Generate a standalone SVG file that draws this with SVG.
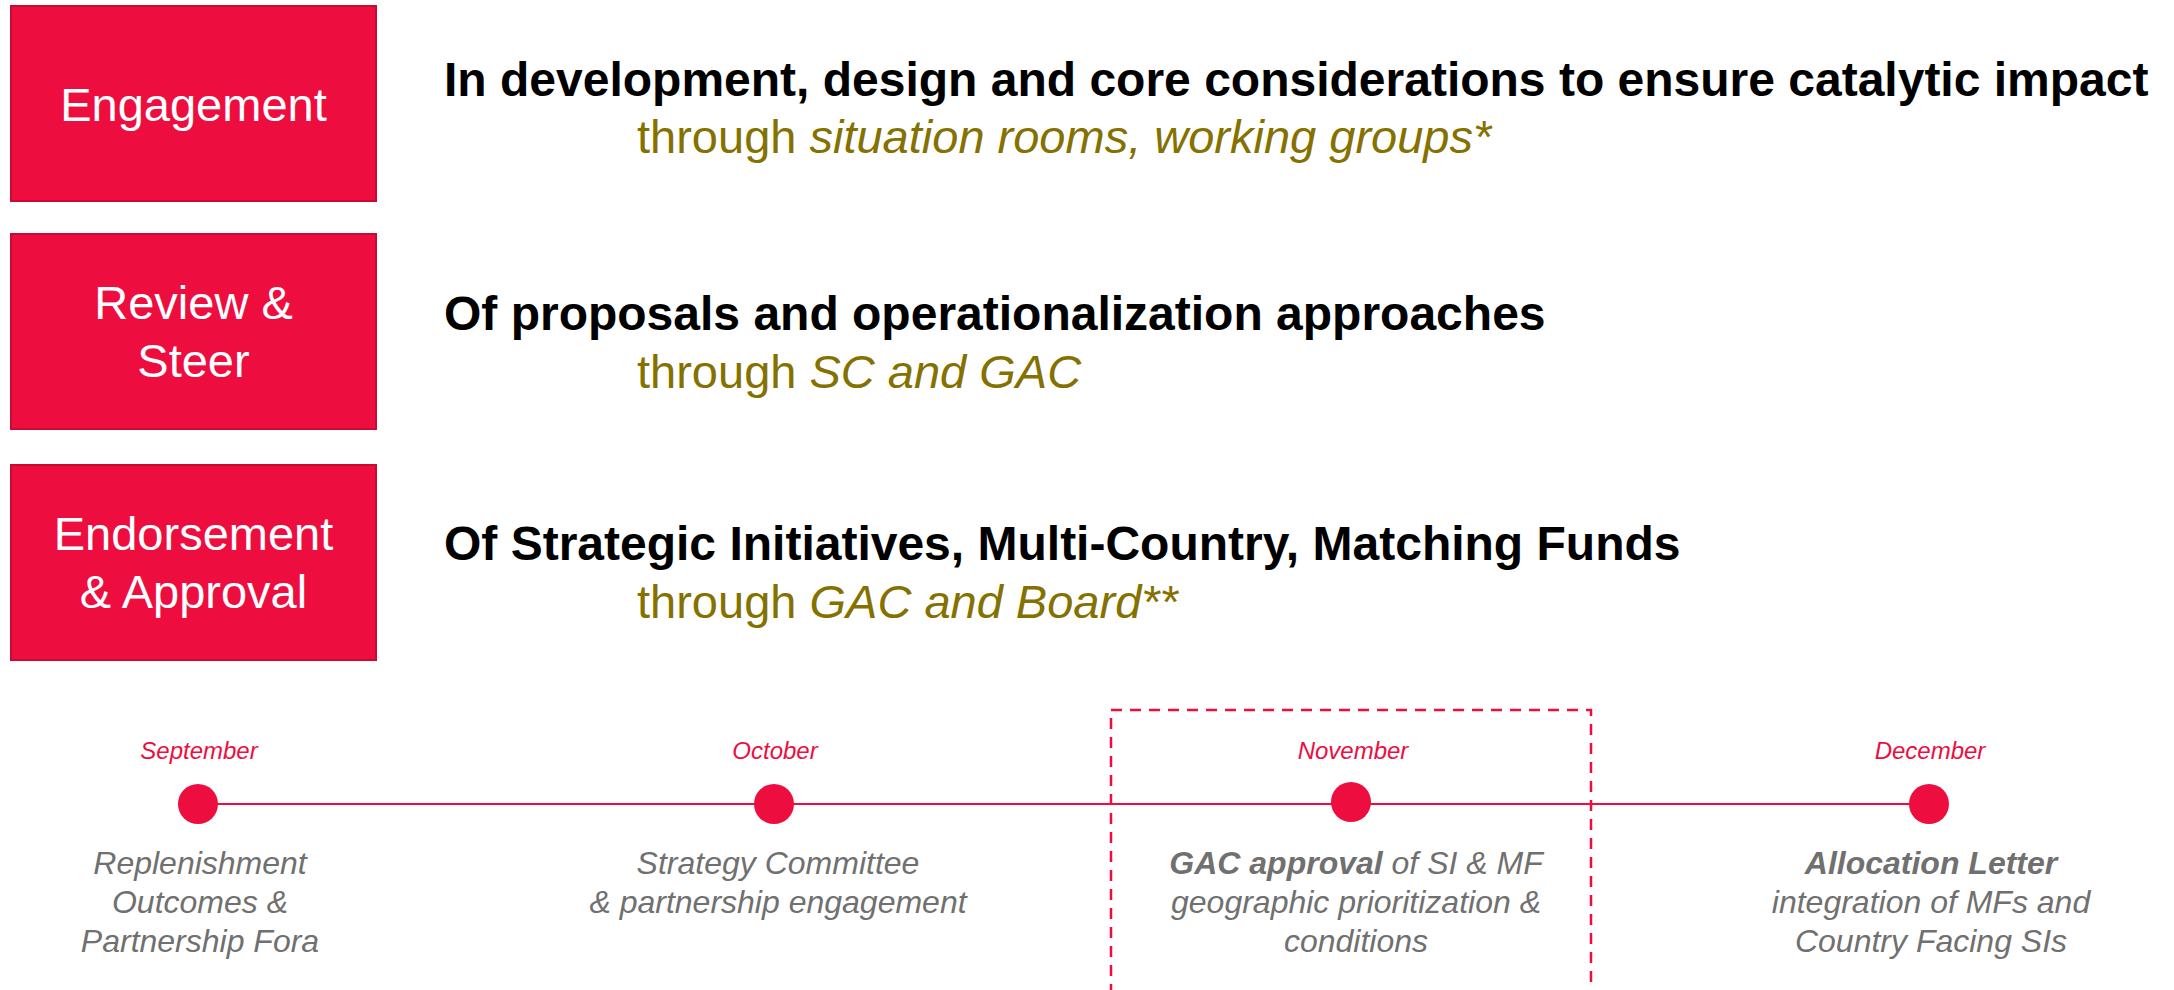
<svg xmlns="http://www.w3.org/2000/svg" width="2174" height="990" viewBox="0 0 2174 990">
<style>
.box{fill:#ED0E3F;stroke:#C80A35;stroke-width:2}
.boxt{font-family:"Liberation Sans",Arial,sans-serif;font-size:47px;fill:#fff;text-anchor:middle}
.head{font-family:"Liberation Sans",Arial,sans-serif;font-size:48px;font-weight:bold;fill:#000}
.thr{font-family:"Liberation Sans",Arial,sans-serif;font-size:47px;fill:#857100}
.it{font-style:italic}
.mon{font-family:"Liberation Sans",Arial,sans-serif;font-size:24px;font-style:italic;fill:#ED0E3F;text-anchor:middle}
.desc{font-family:"Liberation Sans",Arial,sans-serif;font-size:32px;font-style:italic;fill:#707070;text-anchor:middle}
.dot{fill:#ED0E3F}
.tl{stroke:#ED0E3F;stroke-width:2;fill:none}
.dash{stroke:#ED0E3F;stroke-width:2.5;fill:none;stroke-dasharray:11 8}
</style>
<rect width="2174" height="990" fill="#fff"/>
<g id="engagement">
<rect class="box" x="11" y="6" width="365" height="195"/>
<text class="boxt" x="193.5" y="121">Engagement</text>
</g>
<g id="engagement-desc">
<text class="head" x="444" y="96">In development, design and core considerations to ensure catalytic impact</text>
<text class="thr" x="637" y="153">through <tspan class="it">situation rooms, working groups*</tspan></text>
</g>
<g id="review">
<rect class="box" x="11" y="234" width="365" height="195"/>
<text class="boxt" x="193.5" y="319">Review &amp;</text>
<text class="boxt" x="193.5" y="377">Steer</text>
</g>
<g id="review-desc">
<text class="head" x="444" y="330">Of proposals and operationalization approaches</text>
<text class="thr" x="637" y="388">through <tspan class="it">SC and GAC</tspan></text>
</g>
<g id="endorsement">
<rect class="box" x="11" y="465" width="365" height="195"/>
<text class="boxt" x="193.5" y="550">Endorsement</text>
<text class="boxt" x="193.5" y="608">&amp; Approval</text>
</g>
<g id="endorsement-desc">
<text class="head" x="444" y="560">Of Strategic Initiatives, Multi-Country, Matching Funds</text>
<text class="thr" x="637" y="618">through <tspan class="it">GAC and Board**</tspan></text>
</g>
<g id="connectors">
<line class="tl" x1="198" y1="804" x2="1929" y2="804"/>
<path class="dash" d="M1111,995 V710 H1591 V995"/>
</g>
<g id="september">
<text class="mon" x="199" y="759">September</text>
<circle class="dot" cx="198" cy="804" r="20"/>
<text class="desc" x="200" y="874">Replenishment</text>
<text class="desc" x="200" y="913">Outcomes &amp;</text>
<text class="desc" x="200" y="952">Partnership Fora</text>
</g>
<g id="october">
<text class="mon" x="775" y="759">October</text>
<circle class="dot" cx="774" cy="804" r="20"/>
<text class="desc" x="778" y="874">Strategy Committee</text>
<text class="desc" x="778" y="913">&amp; partnership engagement</text>
</g>
<g id="november">
<text class="mon" x="1353" y="759">November</text>
<circle class="dot" cx="1351" cy="802" r="20"/>
<text class="desc" x="1356" y="874"><tspan font-weight="bold">GAC approval</tspan> of SI &amp; MF</text>
<text class="desc" x="1356" y="913">geographic prioritization &amp;</text>
<text class="desc" x="1356" y="952">conditions</text>
</g>
<g id="december">
<text class="mon" x="1930" y="759">December</text>
<circle class="dot" cx="1929" cy="804" r="20"/>
<text class="desc" x="1931" y="874" font-weight="bold">Allocation Letter</text>
<text class="desc" x="1931" y="913">integration of MFs and</text>
<text class="desc" x="1931" y="952">Country Facing SIs</text>
</g>
</svg>
